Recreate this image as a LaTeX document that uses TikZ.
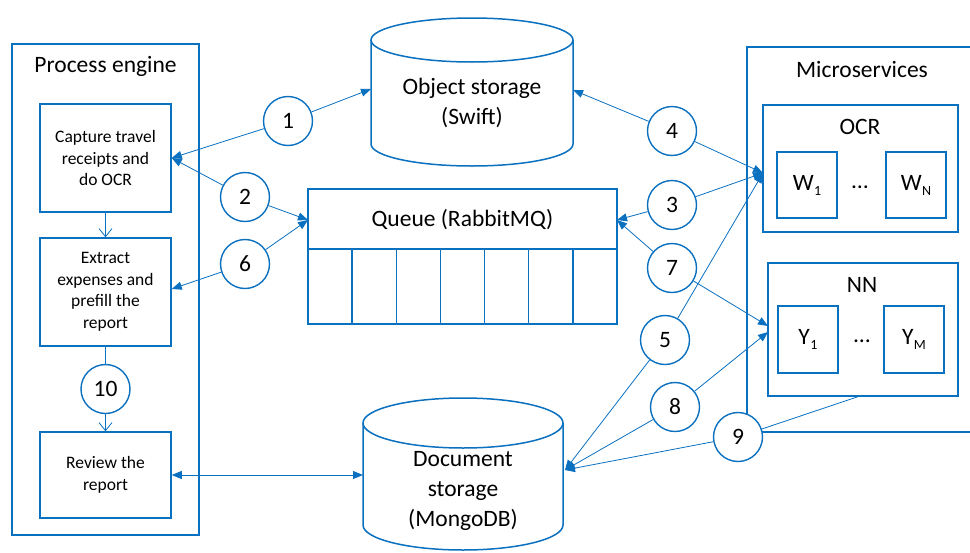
\documentclass[tikz,border=0pt]{standalone}
\usepackage{fontspec}
\setmainfont{Carlito}
\usetikzlibrary{arrows.meta,calc}
\definecolor{vb}{HTML}{0A70C0}
\begin{document}
\begin{tikzpicture}[x=1pt,y=-1pt,
  >={Triangle[length=10pt,width=8pt]},
  box/.style={draw=vb,line width=1.5pt,fill=white,inner sep=0pt},
  num/.style={circle,draw=vb,line width=1.4pt,fill=white,minimum size=49pt,inner sep=0pt,font=\fontsize{23.5}{28}\selectfont},
  conn/.style={draw=vb,line width=0.8pt},
  big/.style={font=\fontsize{23.5}{30}\selectfont,align=center,inner sep=0pt},
  small/.style={font=\fontsize{17.5}{21.5}\selectfont,align=center,inner sep=0pt},
  open/.style={-{Straight Barb[length=8pt,width=13pt]}}
]
\useasboundingbox (0,0) rectangle (970,552);
\clip (0,0) rectangle (970,552);

% Process engine
\node[box,minimum width=187pt,minimum height=491pt] (pe) at (105.5,289.5) {};
\node[big] (pet) at (105.5,66) {Process engine};
\node[box,minimum width=131pt,minimum height=108pt,small] (cap) at (105.5,158) {Capture travel\\receipts and\\do OCR};
\node[box,minimum width=131pt,minimum height=108pt,small] (ext) at (105.5,292) {Extract\\expenses and\\prefill the\\report};
\node[box,minimum width=131pt,minimum height=86pt,small] (rev) at (105.5,475) {Review the\\report};

% Object storage cylinder
\path[fill=white,draw=vb,line width=1.5pt] (371,40) -- (371,144) arc[start angle=180,end angle=0,x radius=101,y radius=22] -- (573,40);
\path[fill=white,draw=vb,line width=1.5pt] (472,40) ellipse [x radius=101,y radius=22];
\node[big] (ost) at (472,103) {Object storage\\(Swift)};
\coordinate (osW) at (371,89);
\coordinate (osE) at (573,90);

% Queue
\node[box,minimum width=309pt,minimum height=135pt] (q) at (462.5,256.5) {};
\draw[vb,line width=1.5pt] (308,249) -- (617,249);
\foreach \i in {1,...,6} {\draw[vb,line width=1.5pt] (308+44.14*\i,249) -- (308+44.14*\i,324);}
\node[big] (qt) at (462.5,220) {Queue (RabbitMQ)};
\coordinate (qW) at (308,220);
\coordinate (qE) at (617,220);

% Document storage cylinder
\path[fill=white,draw=vb,line width=1.5pt] (363,423) -- (363,525) arc[start angle=180,end angle=0,x radius=100,y radius=25] -- (563,423);
\path[fill=white,draw=vb,line width=1.5pt] (463,423) ellipse [x radius=100,y radius=25];
\node[big] (dst) at (463,491) {Document\\storage\\(MongoDB)};
\coordinate (dsW) at (363,475);
\coordinate (dsE) at (565,470);

% Microservices
\draw[vb,line width=1.5pt] (985,47) -- (747,47) -- (747,432) -- (985,432);
\node[big] (mst) at (862,69) {Microservices};
\node[box,minimum width=195pt,minimum height=127pt] (ocr) at (860.5,168.5) {};
\node[big] (ocrt) at (860,127) {OCR};
\node[box,minimum width=60pt,minimum height=66pt,big] (w1) at (807,185) {W\kern0.5pt\raisebox{-5pt}{\fontsize{14}{14}\selectfont 1}};
\node[box,minimum width=60pt,minimum height=66pt,big] (wn) at (916,185) {W\kern0.5pt\raisebox{-5pt}{\fontsize{14}{14}\selectfont N}};
\node[big] (wd) at (860,187) {…};
\node[box,minimum width=190pt,minimum height=133pt] (nn) at (863,329.5) {};
\node[big] (nnt) at (862,285) {NN};
\node[box,minimum width=60pt,minimum height=67pt,big] (y1) at (808,339.5) {Y\kern0.5pt\raisebox{-5pt}{\fontsize{14}{14}\selectfont 1}};
\node[box,minimum width=60pt,minimum height=67pt,big] (ym) at (914,339.5) {Y\kern0.5pt\raisebox{-5pt}{\fontsize{14}{14}\selectfont M}};
\node[big] (yd) at (862,341) {…};
\coordinate (ocrW) at (763,173);
\coordinate (nnW1) at (768,326);
\coordinate (nnW2) at (768,332);
\coordinate (nnS) at (860,396);

% numbered circles
\node[num] (c1) at (288,121) {1};
\node[num] (c2) at (245,197) {2};
\node[num] (c6) at (245,264) {6};
\node[num] (c10) at (105.5,389) {10};
\node[num] (c4) at (672,131) {4};
\node[num] (c3) at (672,205) {3};
\node[num] (c7) at (672,268) {7};
\node[num] (c5) at (665,340) {5};
\node[num] (c8) at (675,407) {8};
\node[num] (c9) at (738,437) {9};

% connectors
\draw[conn,<-] (cap.east) -- (c1);
\draw[conn,->] (c1) -- (osW);
\draw[conn,<-] (cap.east) -- (c2);
\draw[conn,->] (c2) -- (qW);
\draw[conn,<-] (qW) -- (c6);
\draw[conn,->] (c6) -- (ext.east |- 0,289);
\draw[conn,<-] (osE) -- (c4);
\draw[conn,->] (c4) -- (ocrW);
\draw[conn,<-] (qE) -- (c3);
\draw[conn,->] (c3) -- (ocrW);
\draw[conn,<-] (qE) -- (c7);
\draw[conn,->] (c7) -- (nnW1);
\draw[conn,<-] (ocrW) -- (c5);
\draw[conn,->] (c5) -- (dsE);
\draw[conn,<-] (nnW2) -- (c8);
\draw[conn,->] (c8) -- (dsE);
\draw[conn] (nnS) -- (c9);
\draw[conn,->] (c9) -- (dsE);
\draw[conn,<->] (rev.east) -- (dsW);
\draw[conn,open] (cap.south) -- (ext.north);
\draw[conn] (ext.south) -- (c10);
\draw[conn,open] (c10) -- (rev.north);
\end{tikzpicture}
\end{document}
